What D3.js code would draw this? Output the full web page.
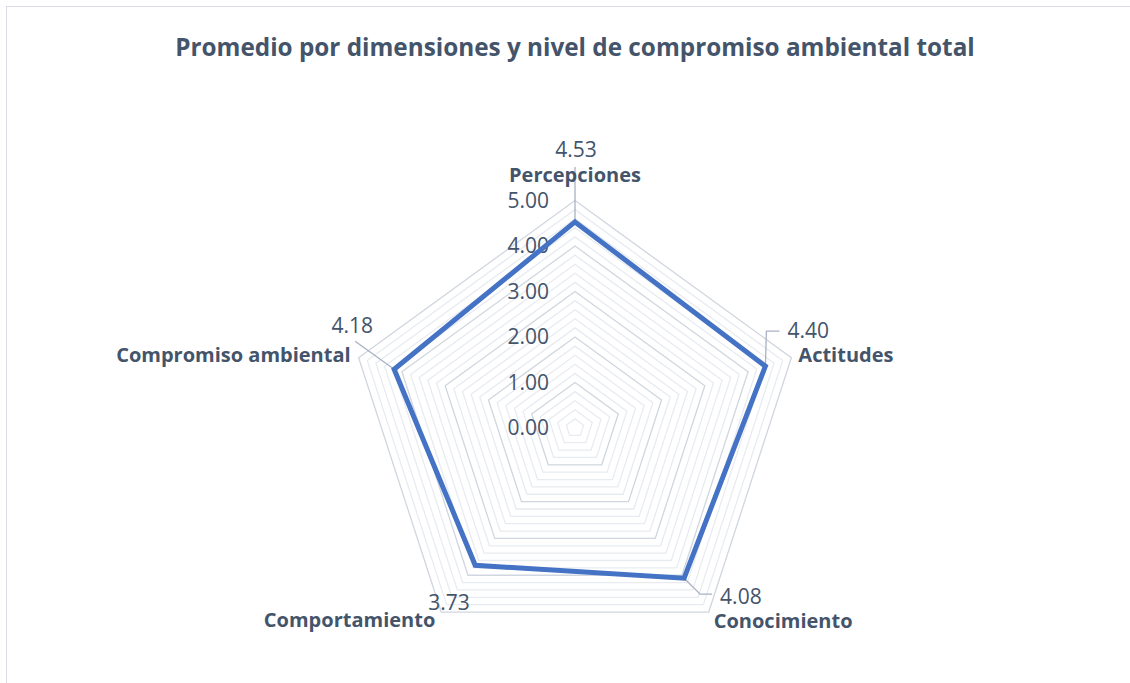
<!DOCTYPE html>
<html><head><meta charset="utf-8">
<script src="https://cdn.jsdelivr.net/npm/d3@7"></script>
<style>
html,body{margin:0;padding:0;background:#fff;}
svg{display:block;font-family:"Open Sans",sans-serif;}
</style></head>
<body><svg id="c" width="1130" height="683"></svg>
<script>
// ---- data ----
const title = "Promedio por dimensiones y nivel de compromiso ambiental total";
const categories = ["Percepciones","Actitudes","Conocimiento","Comportamiento","Compromiso ambiental"];
const values = [4.53, 4.40, 4.08, 3.73, 4.18];
const tickValues = [0, 1, 2, 3, 4, 5];
const tickLabels = ["0.00","1.00","2.00","3.00","4.00","5.00"];

// ---- layout (style) ----
const cx = 575, cy = 428, R = 227.5;
const textColor = "#44546a";
const svg = d3.select("#c");

// frame
svg.append("rect").attr("x",6.5).attr("y",6.5).attr("width",1140).attr("height",700)
  .attr("fill","none").attr("stroke","#d9dde3").attr("stroke-width",1);

svg.append("text").attr("x",575).attr("y",47).attr("dy","0.35em").attr("text-anchor","middle")
  .attr("font-size",24.3).attr("font-weight","bold").attr("fill",textColor).text(title);

const r = d3.scaleLinear().domain([0,5]).range([0,R]);
const ang = d3.scaleLinear().domain([0,categories.length]).range([0,2*Math.PI]);
const pt = (i,v) => [cx + r(v)*Math.sin(ang(i)), cy - r(v)*Math.cos(ang(i))];

const g = svg.append("g");
// rings (minor every 0.2, major every 1)
const minor = r.ticks(25).filter(v => v>0);
const ringLine = d3.line();
minor.forEach(v => {
  const major = Math.abs(v - Math.round(v)) < 1e-6;
  g.append("path")
    .attr("d", ringLine(categories.map((c,i)=>pt(i,v))) + "Z")
    .attr("fill","none")
    .attr("stroke", major ? "#d0d6df" : "#e8ebf0")
    .attr("stroke-width", 1.3);
});

// tick labels
tickValues.forEach((v,k) => {
  g.append("text").attr("x", cx-26).attr("y", cy - r(v)).attr("dy","0.35em")
    .attr("text-anchor","end").attr("font-size",21).attr("fill",textColor)
    .text(tickLabels[k]);
});

// leader lines (relative offsets from data point)
const leaderColor = "#a8b2c3";
const leaders = [
  [[0,0],[0,-55]],
  [[0,0],[1,-35],[14,-35]],
  [[0,0],[16,16],[28,16]],
  null,
  [[0,0],[-39,-28]]
];
values.forEach((v,i) => {
  if(!leaders[i]) return;
  const p = pt(i,v);
  g.append("path").attr("d", d3.line()(leaders[i].map(o=>[p[0]+o[0],p[1]+o[1]])))
    .attr("fill","none").attr("stroke",leaderColor).attr("stroke-width",1.3);
});

// data polygon
g.append("path")
  .attr("d", d3.line()(values.map((v,i)=>pt(i,v))) + "Z")
  .attr("fill","none").attr("stroke","#4472c4").attr("stroke-width",5)
  .attr("stroke-linejoin","miter");

// data labels (offset from data point)
const dataLabelPos = [[1,-72,"middle"],[22,-35,"start"],[36,18,"start"],[-47,37,"start"],[-21,-44,"end"]];
const fmt = d3.format(".2f");
values.forEach((v,i) => {
  const p = pt(i,v), o = dataLabelPos[i];
  g.append("text").attr("x",p[0]+o[0]).attr("y",p[1]+o[1]).attr("dy","0.35em")
    .attr("text-anchor",o[2]).attr("font-size",21).attr("fill",textColor).text(fmt(v));
});

// category labels (offset from outer vertex)
const catPos = [[0,-26,"middle"],[7,-3,"start"],[5,9,"start"],[-6,8,"end"],[-8,-3,"end"]];
categories.forEach((c,i) => {
  const p = pt(i,5), o = catPos[i];
  g.append("text").attr("x",p[0]+o[0]).attr("y",p[1]+o[1]).attr("dy","0.35em")
    .attr("text-anchor",o[2]).attr("font-size",20).attr("font-weight","bold")
    .attr("fill",textColor).text(c);
});
</script></body></html>
